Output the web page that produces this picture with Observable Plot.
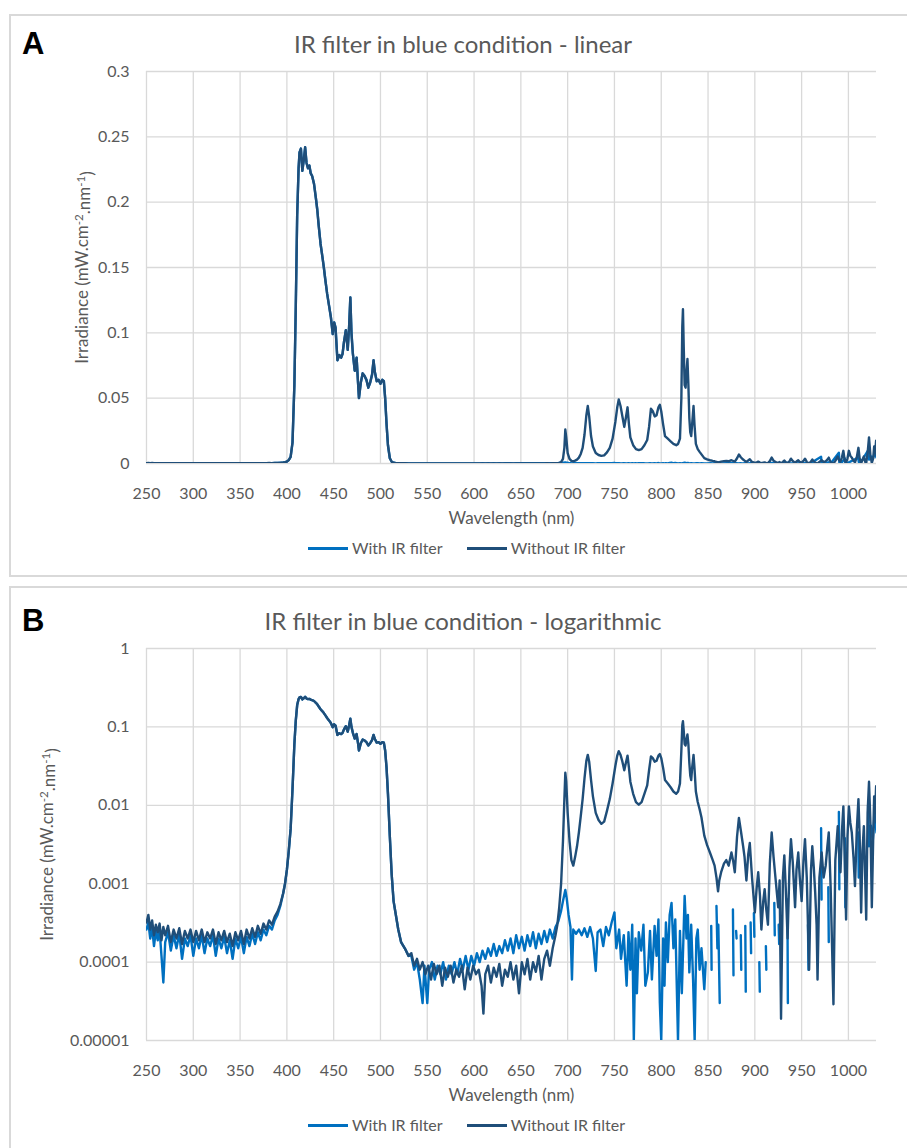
<!DOCTYPE html>
<html><head><meta charset="utf-8">
<script src="https://cdn.jsdelivr.net/npm/d3@7"></script>
<script src="https://cdn.jsdelivr.net/npm/@observablehq/plot@0.6"></script>
<style>
body{margin:0;background:#fff;}
#page{position:relative;width:907px;height:1148px;overflow:hidden;background:#fff;font-family:Lato,"Open Sans",sans-serif;}
.panel{position:absolute;left:9px;width:920px;border:2px solid #D9D9D9;box-sizing:border-box;}
.letter{position:absolute;left:22px;font:bold 31px "Liberation Sans Narrow","Liberation Sans",sans-serif;color:#000;line-height:32px;}
.title{position:absolute;left:0;width:926px;text-align:center;font-size:24px;line-height:28px;color:#595959;}
.legend{position:absolute;left:0;width:933px;display:flex;justify-content:center;align-items:center;font-size:16px;line-height:20px;color:#595959;}
.legend .item{display:flex;align-items:center;margin:0 12px;}
.legend .sw{width:40px;height:3px;margin-right:4px;}
svg.chart{position:absolute;left:0;overflow:visible;}
</style></head>
<body><div id="page"></div>
<script>
// ---------- data ----------
const xTicks = [250,300,350,400,450,500,550,600,650,700,750,800,850,900,950,1000];
const yTicksLin = [0,0.05,0.1,0.15,0.2,0.25,0.3];
const yTicksLog = [0.00001,0.0001,0.001,0.01,0.1,1];
const seriesNames = ["With IR filter","Without IR filter"];
const seriesColors = ["#0070C0","#1F4E79"];

// Without IR filter, UV side (nm, mW.cm-2.nm-1)
const withoutLow = [[250,3.2e-4],[252,4.0e-4],[254,2.6e-4],[256,3.4e-4],[258,2.2e-4],[260,3.0e-4],[262,2.4e-4],[264,3.1e-4],[266,1.9e-4],[268,2.8e-4],[270,2.2e-4],[273,2.9e-4],[276,1.8e-4],[279,2.6e-4],[282,2.0e-4],[285,2.7e-4],[288,1.7e-4],[291,2.5e-4],[294,2.0e-4],[297,2.6e-4],[300,1.8e-4],[303,2.5e-4],[306,1.9e-4],[309,2.6e-4],[312,1.8e-4],[315,2.4e-4],[318,2.0e-4],[321,2.6e-4],[324,1.7e-4],[327,2.4e-4],[330,1.9e-4],[333,2.5e-4],[336,1.8e-4],[339,2.3e-4],[342,1.6e-4],[345,2.4e-4],[348,1.9e-4],[351,2.5e-4],[354,1.7e-4],[357,2.6e-4],[360,2.0e-4],[363,2.7e-4],[366,2.1e-4],[369,2.9e-4],[372,2.3e-4],[375,3.1e-4],[378,2.6e-4],[381,3.4e-4],[384,3.0e-4],[387,3.8e-4],[390,4.4e-4],[393,5.5e-4]];
// With IR filter, UV side
const withLow = [[250,2.6e-4],[252,3.2e-4],[254,2.0e-4],[256,2.8e-4],[258,1.6e-4],[260,2.5e-4],[262,1.9e-4],[264,2.6e-4],[266,1.2e-4],[268,5.5e-5],[270,1.8e-4],[273,2.4e-4],[276,1.4e-4],[279,2.2e-4],[282,1.5e-4],[285,2.3e-4],[288,1.1e-4],[291,2.0e-4],[294,1.6e-4],[297,2.2e-4],[300,1.2e-4],[303,2.0e-4],[306,1.5e-4],[309,2.2e-4],[312,1.3e-4],[315,2.0e-4],[318,1.6e-4],[321,2.2e-4],[324,1.2e-4],[327,2.0e-4],[330,1.5e-4],[333,2.1e-4],[336,1.3e-4],[339,1.9e-4],[342,1.1e-4],[345,2.0e-4],[348,1.5e-4],[351,2.1e-4],[354,1.3e-4],[357,2.1e-4],[360,1.6e-4],[363,2.3e-4],[366,1.7e-4],[369,2.4e-4],[372,1.9e-4],[375,2.6e-4],[378,2.2e-4],[381,2.9e-4],[384,2.6e-4],[387,3.4e-4],[390,4.0e-4],[393,5.2e-4]];
// Blue LED band, identical in both series
const bluePeak = [[396,7.5e-4],[398,1.0e-3],[400,1.5e-3],[402,2.6e-3],[404,5e-3],[406,0.016],[408,0.06],[409.5,0.12],[411,0.19],[412.5,0.226],[413.5,0.238],[415,0.241],[416.5,0.224],[418,0.232],[419.5,0.242],[421,0.23],[422.5,0.226],[424,0.228],[425.5,0.222],[427,0.22],[429,0.214],[431,0.203],[432.5,0.194],[434,0.182],[436,0.168],[438,0.158],[439.5,0.15],[441,0.141],[443,0.13],[445,0.121],[447,0.112],[449,0.099],[450.5,0.108],[452,0.104],[454,0.079],[456,0.083],[458,0.081],[459.5,0.084],[461,0.093],[463,0.102],[465,0.087],[466.5,0.105],[467.8,0.127],[469,0.1],[470.5,0.084],[472.5,0.071],[474.5,0.081],[476,0.062],[477,0.05],[479,0.062],[481,0.069],[483,0.067],[485,0.064],[487,0.058],[489,0.062],[491,0.068],[492.6,0.079],[494,0.07],[496,0.063],[498,0.064],[500,0.061],[502,0.064],[503.6,0.063],[505,0.05],[506.5,0.03],[508,0.014],[510,0.004],[512,1.3e-3],[514,6e-4],[516,4.3e-4],[519,2.6e-4],[522,1.8e-4],[526,1.5e-4],[530,1.2e-4]];
// Without IR filter, red / far-red / IR side
const withoutHigh = [[533,1.3e-4],[536,9e-5],[539,1.1e-4],[542,8e-5],[545,1.0e-4],[548,7e-5],[551,9e-5],[554,6e-5],[557,9.5e-5],[560,7e-5],[563,9e-5],[566,5e-5],[569,8.5e-5],[572,6.5e-5],[575,9e-5],[578,5.5e-5],[581,8e-5],[584,6.5e-5],[587,9e-5],[590,4.5e-5],[593,8.5e-5],[596,6e-5],[599,9e-5],[602,7e-5],[605,8e-5],[608,5e-5],[610,2.2e-5],[612,7e-5],[615,9e-5],[618,5.5e-5],[621,8.5e-5],[624,6.5e-5],[627,9.5e-5],[630,5e-5],[633,8e-5],[636,6.5e-5],[639,1.0e-4],[642,6e-5],[645,9e-5],[648,4e-5],[651,1.0e-4],[654,7e-5],[657,1.1e-4],[660,6e-5],[663,1.0e-4],[666,7.5e-5],[669,1.2e-4],[672,6e-5],[675,1.1e-4],[678,1.4e-4],[681,9e-5],[684,1.5e-4],[687,2.2e-4],[689,3.0e-4],[691,5e-4],[693,1.0e-3],[695,3.5e-3],[696.5,0.012],[697.5,0.026],[698.5,0.02],[700,0.008],[702,3.5e-3],[704,2.0e-3],[706,1.7e-3],[708,2.2e-3],[710,3.0e-3],[712,4.5e-3],[714,7.3e-3],[716,0.012],[718,0.022],[720,0.037],[721.5,0.044],[723,0.036],[725,0.021],[727,0.013],[730,0.008],[733,0.0065],[736,0.0058],[739,0.0062],[742,0.0085],[745,0.012],[748,0.019],[751,0.032],[753,0.043],[754.6,0.049],[756.5,0.044],[758.5,0.036],[760.5,0.028],[762,0.034],[764,0.043],[765.5,0.03],[767,0.02],[770,0.014],[773,0.011],[776,0.0102],[779,0.011],[782,0.014],[785,0.018],[787,0.028],[789,0.042],[791,0.04],[793,0.036],[795,0.037],[797,0.043],[798.5,0.045],[800,0.04],[802,0.03],[804,0.021],[807,0.019],[810,0.017],[813,0.015],[816,0.014],[818,0.015],[820,0.019],[821.5,0.05],[822.5,0.105],[823.2,0.118],[824,0.09],[825,0.06],[826,0.058],[827,0.07],[828,0.08],[829,0.06],[830,0.035],[831,0.024],[832,0.021],[833,0.03],[834.5,0.044],[835.5,0.03],[837,0.015],[839,0.011],[841,0.0089],[843,0.007],[846,0.0041],[849,0.0031],[852,0.0025],[855,0.002],[857,0.0017],[859,0.0012],[860.7,0.0008],[862,0.0011],[864,0.0014],[867,0.0018],[869.5,0.002],[872,0.0017],[875,0.0025],[877,0.0019],[878.6,0.0014],[881,0.004],[883,0.0069],[885,0.0048],[887.5,0.003],[889,0.0022],[891,0.0011],[893,0.0024],[894.6,0.0033],[897,0.0012],[900,0.00043],[902,0.0009],[903.6,0.0014],[905.5,0.0007],[907,0.00026],[909,0.0006],[910.5,0.00085],[912,0.0005],[914,0.0003],[916,0.0018],[918,0.0045],[920,0.0022],[921.5,0.0014],[923,0.0009],[925,0.0005],[926.5,0.0011],[928,1.9e-5],[930,0.0012],[931.5,0.0023],[933,0.0009],[935,0.0002],[937,0.0016],[938.6,0.0037],[940.5,0.0019],[943,0.0005],[944.5,0.0015],[946.4,0.0025],[948,0.0012],[950,0.0006],[952,0.002],[953.6,0.0037],[955.5,0.0012],[958,8e-5],[960,0.0015],[961.4,0.003],[963,0.0016],[964.5,0.00077],[966,0.0003],[967,6e-5],[969,0.0012],[971.4,0.0025],[973.5,0.0012],[975.7,0.0017],[977.5,0.003],[979,0.0045],[981,0.0009],[984,2.9e-5],[986,0.002],[988.6,0.0054],[990,0.0025],[991.5,0.0014],[993,0.0045],[994.6,0.0097],[996,0.0023],[997.5,0.00035],[999,0.004],[1000.5,0.0097],[1002,0.006],[1003.6,0.0045],[1005.5,0.0021],[1007,0.00093],[1009,0.005],[1010.7,0.012],[1012,0.004],[1013.6,0.00043],[1015,0.0026],[1016.5,0.0054],[1018,0.0011],[1019,0.00035],[1020.5,0.008],[1022,0.02],[1023.5,0.006],[1025,0.0005],[1026.5,0.004],[1027.5,0.013],[1028.5,0.008],[1029.6,0.0175],[1030,0.006]];
// With IR filter, red / IR side (0 = at or below zero: not drawn on the log scale)
const withHigh = [[533,1.2e-4],[536,8e-5],[539,1.0e-4],[542,6e-5],[545,3e-5],[547,9e-5],[550,3e-5],[552,8e-5],[555,1.0e-4],[558,6e-5],[561,9e-5],[564,7e-5],[567,1.0e-4],[570,6e-5],[573,9e-5],[576,7e-5],[579,1.0e-4],[582,7e-5],[585,1.1e-4],[588,8e-5],[591,1.2e-4],[594,8e-5],[597,1.2e-4],[600,9e-5],[603,1.3e-4],[606,1.0e-4],[609,1.4e-4],[612,1.1e-4],[615,1.5e-4],[618,1.2e-4],[621,1.7e-4],[624,1.2e-4],[627,1.6e-4],[630,1.3e-4],[633,1.9e-4],[636,1.4e-4],[639,2.0e-4],[642,1.3e-4],[645,2.2e-4],[648,1.5e-4],[651,2.1e-4],[654,1.4e-4],[657,2.2e-4],[660,1.6e-4],[663,2.4e-4],[666,1.5e-4],[669,2.3e-4],[672,1.7e-4],[675,2.5e-4],[678,1.8e-4],[681,2.6e-4],[684,2.0e-4],[687,2.8e-4],[690,3.3e-4],[693,4.5e-4],[695,6e-4],[697.5,8.3e-4],[699,6.5e-4],[701,4e-4],[703,2.8e-4],[704.6,6e-5],[706,2.6e-4],[709,2.3e-4],[712,2.6e-4],[715,2.2e-4],[718,2.7e-4],[721,2.1e-4],[724,2.8e-4],[727,2.0e-4],[730,7.7e-5],[732,2.4e-4],[735,2.6e-4],[738,1.6e-4],[741,2.8e-4],[744,2.2e-4],[747,3.2e-4],[750,4.3e-4],[752,1.5e-4],[755,2.6e-4],[757,1.1e-4],[760,2.2e-4],[763,5e-5],[765,2.4e-4],[767,8e-5],[769,3e-4],[770.7,1e-5],[772.5,2e-4],[774,4e-5],[776,2.4e-4],[778.6,1.4e-4],[781,3e-4],[783,5e-5],[785.7,7.4e-5],[788,2.5e-4],[790,6e-5],[792.9,2.9e-4],[795,1.2e-4],[797,3.5e-4],[798.5,3e-5],[800,1e-5],[802,2e-4],[803.5,5e-5],[805,3.2e-4],[807,1e-4],[809,4e-4],[811,5.7e-4],[813,1.5e-4],[815,3.5e-4],[817.9,1e-5],[820,2.5e-4],[822,4e-5],[825,7e-4],[827,2e-4],[828.5,4e-4],[830,7.4e-5],[832,3e-4],[834,6e-5],[835.7,1e-5],[837.5,2e-4],[839,2.6e-4],[841,8e-5],[843,1.5e-4],[846,4.5e-5],[847.5,1e-4],[849,0],[853.4,2.9e-4],[853.8,8e-5],[855,0],[859,5.2e-4],[860,1.5e-4],[861,3e-4],[862.5,3e-5],[864,0],[876.6,4.7e-4],[877.2,6.8e-5],[878.5,0],[880,2.5e-4],[880.5,2e-4],[882,0],[885,2.2e-4],[885.5,8e-5],[887,0],[889.8,2.9e-4],[890.3,4.2e-5],[892,0],[895.5,3.2e-4],[896,1.3e-4],[897.5,0],[899,4.2e-4],[899.5,2.1e-4],[901,0],[904.8,1e-4],[905.3,4.2e-5],[907,0],[911.8,1.6e-4],[912.3,8e-5],[914,0],[920.8,5.7e-4],[921.3,2.2e-4],[923,0],[925.5,3e-4],[926,1.7e-4],[928.5,0],[934.8,6.3e-4],[935.3,3e-5],[937,0],[956.8,3e-4],[957.3,8e-5],[959,0],[970.8,5.1e-3],[971.3,6.3e-4],[973,0],[978.5,9e-4],[979,1.8e-4],[981,0],[989.8,8.2e-3],[990.3,8.5e-4],[992,0],[996.2,3.8e-3],[996.7,5e-4],[998,0],[1010.5,4.5e-3],[1011,1.2e-3],[1012.5,0],[1021,0.01],[1022,3e-3],[1024,0.0055],[1026,0.0035],[1028,0.008],[1030,0.0045]];

const withIR = [...withLow, ...bluePeak, ...withHigh];
const withoutIR = [...withoutLow, ...bluePeak, ...withoutHigh];

const xLabel = "Wavelength (nm)";
const yLabel = "Irradiance (mW.cm-2.nm-1)";
const panels = [
  {letter:"A", title:"IR filter in blue condition - linear", log:false, top:14, height:563, svgTop:0, yLabelDx:-64},
  {letter:"B", title:"IR filter in blue condition - logarithmic", log:true, top:586, height:600, svgTop:577, yLabelDx:-99}
];

// ---------- drawing ----------
const page = document.getElementById("page");
const toRows = (arr, s) => arr.map(([wl, v]) => ({wl, v, s}));
const rowsWith = toRows(withIR, seriesNames[0]);
const rowsWithout = toRows(withoutIR, seriesNames[1]);

function superscripts(svg) {
  d3.select(svg).selectAll("text").filter(function(){ return this.textContent === yLabel; })
    .each(function(){
      const t = d3.select(this);
      t.text(null);
      t.append("tspan").text("Irradiance (mW.cm");
      t.append("tspan").attr("dy","-0.45em").attr("font-size","0.68em").text("-2");
      t.append("tspan").attr("dy","0.45em").text(".nm");
      t.append("tspan").attr("dy","-0.45em").attr("font-size","0.68em").text("-1");
      t.append("tspan").attr("dy","0.45em").text(")");
    });
}

for (const p of panels) {
  const box = document.createElement("div");
  box.className = "panel";
  box.style.top = p.top + "px";
  box.style.height = p.height + "px";
  page.appendChild(box);

  const letter = document.createElement("div");
  letter.className = "letter";
  letter.style.top = (p.svgTop + 28) + "px";
  letter.textContent = p.letter;
  page.appendChild(letter);

  const title = document.createElement("div");
  title.className = "title";
  title.style.top = (p.svgTop + 30) + "px";
  title.textContent = p.title;
  page.appendChild(title);

  const yv = p.log ? (d => d.v > 0 ? d.v : NaN) : "v";
  const yTicks = p.log ? yTicksLog : yTicksLin;
  const chart = Plot.plot({
    width: 907,
    height: 540,
    marginTop: 71,
    marginBottom: 77,
    marginLeft: 146,
    marginRight: 31,
    style: {background: "transparent", fontFamily: "Lato, 'Open Sans', sans-serif", fontSize: "16px", color: "#595959", overflow: "visible"},
    x: {domain: [250, 1030], ticks: xTicks, tickSize: 0, tickPadding: 24, tickFormat: d => String(d), label: null},
    y: p.log
      ? {type: "log", domain: [1e-5, 1], ticks: yTicksLog, tickSize: 0, tickPadding: 17, tickFormat: d3.format(".5~f"), label: null}
      : {domain: [0, 0.3], ticks: yTicksLin, tickSize: 0, tickPadding: 17, tickFormat: d3.format("~g"), label: null},
    marks: [
      Plot.ruleX(xTicks, {stroke: "#D9D9D9", strokeWidth: 1.3}),
      Plot.ruleY(yTicks, {stroke: "#D9D9D9", strokeWidth: 1.3}),
      Plot.line(rowsWith, {x: "wl", y: yv, stroke: seriesColors[0], strokeWidth: 2.4, clip: true, strokeLinejoin: "round"}),
      Plot.line(rowsWithout, {x: "wl", y: yv, stroke: seriesColors[1], strokeWidth: 2.4, clip: true, strokeLinejoin: "round"}),
      Plot.text([xLabel], {frameAnchor: "bottom", dy: 55, lineAnchor: "middle", fontSize: 17, fill: "#595959"}),
      Plot.text([yLabel], {frameAnchor: "left", dx: p.yLabelDx, rotate: -90, textAnchor: "middle", lineAnchor: "middle", fontSize: 17, fill: "#595959"})
    ]
  });
  chart.classList.add("chart");
  chart.style.top = p.svgTop + "px";
  superscripts(chart);
  page.appendChild(chart);

  const legend = document.createElement("div");
  legend.className = "legend";
  legend.style.top = (p.svgTop + 538) + "px";
  seriesNames.forEach((name, i) => {
    const item = document.createElement("div");
    item.className = "item";
    const sw = document.createElement("div");
    sw.className = "sw";
    sw.style.background = seriesColors[i];
    const label = document.createElement("span");
    label.textContent = name;
    item.appendChild(sw); item.appendChild(label);
    legend.appendChild(item);
  });
  page.appendChild(legend);
}
</script></body></html>
